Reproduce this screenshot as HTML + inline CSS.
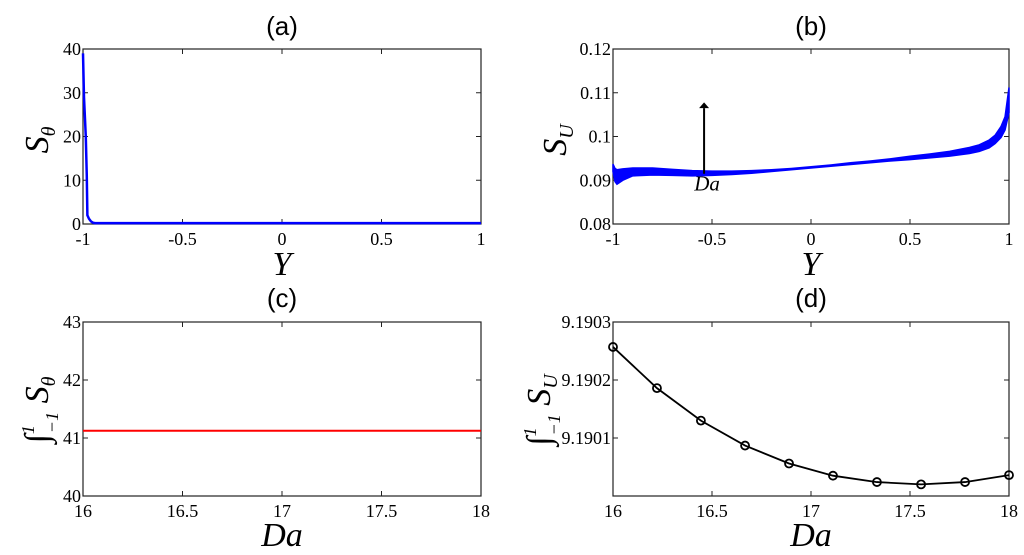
<!DOCTYPE html>
<html><head><meta charset="utf-8"><style>
body{margin:0;background:#fff;width:1024px;height:555px;overflow:hidden}
svg{display:block}
.tk{font-family:"Liberation Serif",serif;font-size:18px;fill:#000}
.ttl{font-family:"Liberation Sans",sans-serif;font-size:26px;fill:#000}
.al{font-family:"Liberation Serif",serif;font-style:italic;font-size:34px;fill:#000}
</style></head><body>
<svg id="fig" width="1024" height="555" xmlns="http://www.w3.org/2000/svg">
<text class="ttl" x="282" y="35" text-anchor="middle">(a)</text>
<text class="ttl" x="811" y="35" text-anchor="middle">(b)</text>
<text class="ttl" x="282" y="307" text-anchor="middle">(c)</text>
<text class="ttl" x="811" y="307" text-anchor="middle">(d)</text>
<text class="al" x="282" y="275" text-anchor="middle">Y</text>
<text class="al" x="811" y="275" text-anchor="middle">Y</text>
<text class="al" x="282" y="546" text-anchor="middle">Da</text>
<text class="al" x="811" y="546" text-anchor="middle">Da</text>
<text class="al" transform="translate(48,140) rotate(-90)" text-anchor="middle">S<tspan font-size="20" dy="7">θ</tspan></text>
<text class="al" transform="translate(566,140) rotate(-90)" text-anchor="middle">S<tspan font-size="20" dy="7">U</tspan></text>
<text class="al" transform="translate(48,410) rotate(-90)" text-anchor="middle">∫<tspan font-size="18" dy="-14">1</tspan><tspan font-size="18" dx="-8" dy="24">−1</tspan><tspan dy="-10"> S</tspan><tspan font-size="20" dy="7">θ</tspan></text>
<text class="al" transform="translate(550,410) rotate(-90)" text-anchor="middle">∫<tspan font-size="18" dy="-14">1</tspan><tspan font-size="18" dx="-8" dy="24">−1</tspan><tspan dy="-10"> S</tspan><tspan font-size="20" dy="7">U</tspan></text>
</svg>
<script>
// panel (a)
const aY=[-1,-0.995,-0.986,-0.981,-0.978,-0.97,-0.96,-0.95,-0.94,-0.9,0,1];
const aS=[39,29,20,11,2,1.2,0.6,0.3,0.2,0.2,0.2,0.2];
// panel (b)
const bY=[-1,-0.99,-0.98,-0.95,-0.9,-0.8,-0.7,-0.6,-0.5,-0.4,-0.3,-0.2,-0.1,0,0.1,0.2,0.3,0.4,0.5,0.6,0.7,0.8,0.85,0.9,0.93,0.96,0.98,1];
const bLow=[.0920,.0897,.0891,.0900,.0910,.0912,.0911,.0910,.0911,.0913,.0916,.0920,.0924,.0928,.0932,.0936,.0940,.0944,.0947,.0951,.0955,.0961,.0966,.0974,.0984,.0998,.1015,.1055];
const bUp=[.0937,.0927,.0924,.0926,.0928,.0928,.0925,.0922,.0921,.0921,.0922,.0924,.0927,.0931,.0935,.0940,.0944,.0949,.0955,.0960,.0966,.0975,.0981,.0992,.1003,.1023,.1045,.1112];
// panel (c)
const cDa=[16,18];
const cInt=[41.126,41.126];
// panel (d)
const dDa=[16,16.222,16.444,16.667,16.889,17.111,17.333,17.556,17.778,18];
const dInt=[9.190257,9.190186,9.190130,9.190087,9.190056,9.190035,9.190024,9.190020,9.190024,9.190036];
const yTicksAB=["-1","-0.5","0","0.5","1"];
const daTicks=["16","16.5","17","17.5","18"];
const aYT=[0,10,20,30,40], bYT=["0.08","0.09","0.1","0.11","0.12"], cYT=[40,41,42,43], dYT=["9.1901","9.1902","9.1903"];

const svg=document.getElementById('fig');const NS='http://www.w3.org/2000/svg';
function mk(tag,attrs,name){const e=document.createElementNS(NS,tag);for(const k in attrs)e.setAttribute(k,attrs[k]);


svg.appendChild(e);return e;}
function axes(L,T,R,B,x0,x1,y0,y1,xt,yt,p){
 const sx=v=>L+(v-x0)/(x1-x0)*(R-L), sy=v=>B-(v-y0)/(y1-y0)*(B-T);
 mk('rect',{x:L,y:T,width:R-L,height:B-T,fill:'none',stroke:'#222','stroke-width':1.2},'plot-frame-'+p);
 xt.forEach(t=>{const x=sx(+t);
  mk('line',{x1:x,x2:x,y1:B,y2:B-5,stroke:'#222'},'x-tick-'+p);
  mk('line',{x1:x,x2:x,y1:T,y2:T+5,stroke:'#222'},'x-tick-top-'+p);
  const tx=mk('text',{x:x,y:B+21,'text-anchor':'middle',class:'tk'},'x-tick-label-'+p);tx.textContent=t;});
 yt.forEach(t=>{const y=sy(+t);
  mk('line',{x1:L,x2:L+5,y1:y,y2:y,stroke:'#222'},'y-tick-'+p);
  mk('line',{x1:R,x2:R-5,y1:y,y2:y,stroke:'#222'},'y-tick-right-'+p);
  const tx=mk('text',{x:L-2,y:y+6,'text-anchor':'end',class:'tk'},'y-tick-label-'+p);tx.textContent=t;});
 return [sx,sy];}
// a
let [sx,sy]=axes(83,49,481,224,-1,1,0,40,yTicksAB,aYT,'a');
mk('polyline',{points:aY.map((v,i)=>sx(v)+','+sy(aS[i])).join(' '),fill:'none',stroke:'#0000ff','stroke-width':2.5},'s-theta-line');
// b
[sx,sy]=axes(613,49,1009,224,-1,1,0.08,0.12,yTicksAB,bYT,'b');
let pts=bY.map((v,i)=>sx(v)+','+sy(bUp[i])).concat(bY.slice().reverse().map((v,i)=>sx(v)+','+sy(bLow[bY.length-1-i])));
mk('polygon',{points:pts.join(' '),fill:'#0000ff',stroke:'#0000ff','stroke-width':1.5},'s-u-band');
const ax=sx(-0.54);
mk('line',{x1:ax,x2:ax,y1:sy(0.0915),y2:sy(0.1065),stroke:'#000','stroke-width':2},'da-arrow');
mk('polygon',{points:`${ax-5},${sy(0.1065)} ${ax+5},${sy(0.1065)} ${ax},${sy(0.1078)}`,fill:'#000'},'da-arrow-head');
const dl=mk('text',{x:ax+3,y:sy(0.0915)+17,'text-anchor':'middle',class:'al'},'da-arrow-label');dl.setAttribute('style','font-size:21px');dl.textContent='Da';
// c
[sx,sy]=axes(83,322,481,496,16,18,40,43,daTicks,cYT,'c');
mk('polyline',{points:cDa.map((v,i)=>sx(v)+','+sy(cInt[i])).join(' '),fill:'none',stroke:'#ff0000','stroke-width':2},'integral-s-theta-line');
// d
[sx,sy]=axes(613,322,1009,496,16,18,9.19,9.1903,daTicks,dYT,'d');
mk('polyline',{points:dDa.map((v,i)=>sx(v)+','+sy(dInt[i])).join(' '),fill:'none',stroke:'#000','stroke-width':1.8},'integral-s-u-line');
dDa.forEach((v,i)=>mk('circle',{cx:sx(v),cy:sy(dInt[i]),r:4,fill:'none',stroke:'#000','stroke-width':1.8},'integral-s-u-marker'));
</script>
</body></html>
